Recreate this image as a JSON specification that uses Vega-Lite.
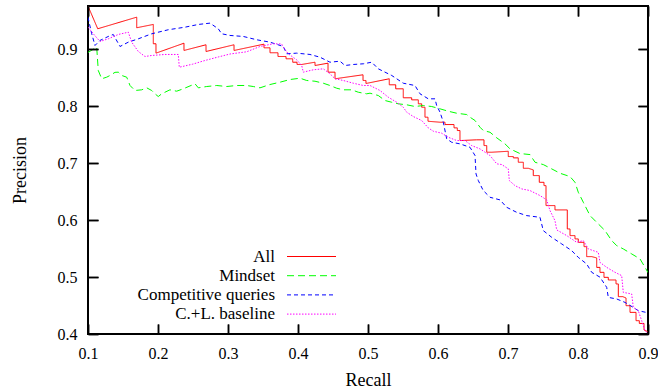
{
"$schema": "https://vega.github.io/schema/vega-lite/v6.json",
"width": 560, "height": 328,
"autosize": {"type": "none"},
"padding": {"left": 88, "top": 6, "right": 10, "bottom": 58},
"background": "white",
"config": {
  "view": {"stroke": "black", "strokeWidth": 2},
  "axis": {"domain": false,
    "labelFont": "Liberation Serif", "labelFontSize": 16, "labelColor": "black", "labelFlush": false, "labelOverlap": false,
    "titleFont": "Liberation Serif", "titleFontSize": 18, "titleFontWeight": "normal", "titleColor": "black"}
},
"data": {"values": [
{"s":"All","r":0.1,"p":0.976},{"s":"All","r":0.1139,"p":0.936},{"s":"All","r":0.1696,"p":0.9564},{"s":"All","r":0.1696,"p":0.9378},{"s":"All","r":0.1933,"p":0.9436},{"s":"All","r":0.1933,"p":0.9097},{"s":"All","r":0.1971,"p":0.9097},{"s":"All","r":0.1971,"p":0.8932},{"s":"All","r":0.2371,"p":0.9107},{"s":"All","r":0.2371,"p":0.8979},{"s":"All","r":0.2686,"p":0.9079},{"s":"All","r":0.2686,"p":0.8961},{"s":"All","r":0.3086,"p":0.9079},{"s":"All","r":0.3086,"p":0.8979},{"s":"All","r":0.3514,"p":0.909},{"s":"All","r":0.3514,"p":0.9026},{"s":"All","r":0.36,"p":0.9026},{"s":"All","r":0.36,"p":0.8939},{"s":"All","r":0.3714,"p":0.8939},{"s":"All","r":0.3714,"p":0.8873},{"s":"All","r":0.3829,"p":0.8873},{"s":"All","r":0.3829,"p":0.8833},{"s":"All","r":0.3924,"p":0.8833},{"s":"All","r":0.3924,"p":0.8773},{"s":"All","r":0.3986,"p":0.8773},{"s":"All","r":0.3986,"p":0.8733},{"s":"All","r":0.4053,"p":0.8733},{"s":"All","r":0.4243,"p":0.8773},{"s":"All","r":0.4243,"p":0.8715},{"s":"All","r":0.4429,"p":0.8756},{"s":"All","r":0.4429,"p":0.8598},{"s":"All","r":0.4529,"p":0.8598},{"s":"All","r":0.4529,"p":0.8482},{"s":"All","r":0.4929,"p":0.8552},{"s":"All","r":0.4929,"p":0.8452},{"s":"All","r":0.4971,"p":0.8452},{"s":"All","r":0.4971,"p":0.8399},{"s":"All","r":0.5304,"p":0.8482},{"s":"All","r":0.5304,"p":0.8376},{"s":"All","r":0.5396,"p":0.8376},{"s":"All","r":0.5396,"p":0.8306},{"s":"All","r":0.5504,"p":0.8306},{"s":"All","r":0.5504,"p":0.8148},{"s":"All","r":0.5624,"p":0.8148},{"s":"All","r":0.5624,"p":0.8112},{"s":"All","r":0.5719,"p":0.8112},{"s":"All","r":0.5719,"p":0.8042},{"s":"All","r":0.5767,"p":0.8042},{"s":"All","r":0.5767,"p":0.7982},{"s":"All","r":0.5814,"p":0.7982},{"s":"All","r":0.5814,"p":0.7807},{"s":"All","r":0.5857,"p":0.7807},{"s":"All","r":0.5857,"p":0.7736},{"s":"All","r":0.6029,"p":0.7719},{"s":"All","r":0.61,"p":0.7719},{"s":"All","r":0.61,"p":0.7678},{"s":"All","r":0.6229,"p":0.7678},{"s":"All","r":0.6229,"p":0.762},{"s":"All","r":0.6276,"p":0.762},{"s":"All","r":0.6276,"p":0.7573},{"s":"All","r":0.6314,"p":0.7573},{"s":"All","r":0.6314,"p":0.7397},{"s":"All","r":0.6553,"p":0.741},{"s":"All","r":0.6657,"p":0.741},{"s":"All","r":0.6657,"p":0.7309},{"s":"All","r":0.6696,"p":0.7309},{"s":"All","r":0.6696,"p":0.7192},{"s":"All","r":0.6767,"p":0.7192},{"s":"All","r":0.7004,"p":0.7209},{"s":"All","r":0.7004,"p":0.7116},{"s":"All","r":0.7076,"p":0.7116},{"s":"All","r":0.7076,"p":0.7093},{"s":"All","r":0.7147,"p":0.7093},{"s":"All","r":0.7147,"p":0.7016},{"s":"All","r":0.7219,"p":0.7016},{"s":"All","r":0.7219,"p":0.691},{"s":"All","r":0.729,"p":0.691},{"s":"All","r":0.7361,"p":0.6882},{"s":"All","r":0.7361,"p":0.6782},{"s":"All","r":0.7447,"p":0.6782},{"s":"All","r":0.7447,"p":0.6664},{"s":"All","r":0.7514,"p":0.6664},{"s":"All","r":0.7514,"p":0.6606},{"s":"All","r":0.7543,"p":0.6606},{"s":"All","r":0.7543,"p":0.6255},{"s":"All","r":0.7671,"p":0.6255},{"s":"All","r":0.7671,"p":0.6179},{"s":"All","r":0.7847,"p":0.6179},{"s":"All","r":0.7847,"p":0.5845},{"s":"All","r":0.7886,"p":0.5845},{"s":"All","r":0.7886,"p":0.5728},{"s":"All","r":0.7957,"p":0.5728},{"s":"All","r":0.7957,"p":0.567},{"s":"All","r":0.8004,"p":0.567},{"s":"All","r":0.8004,"p":0.561},{"s":"All","r":0.8086,"p":0.561},{"s":"All","r":0.8086,"p":0.5534},{"s":"All","r":0.8124,"p":0.5534},{"s":"All","r":0.8124,"p":0.5359},{"s":"All","r":0.8196,"p":0.5359},{"s":"All","r":0.8267,"p":0.5336},{"s":"All","r":0.8267,"p":0.517},{"s":"All","r":0.8314,"p":0.517},{"s":"All","r":0.8314,"p":0.5083},{"s":"All","r":0.8371,"p":0.5083},{"s":"All","r":0.8371,"p":0.4995},{"s":"All","r":0.8433,"p":0.4995},{"s":"All","r":0.8433,"p":0.4949},{"s":"All","r":0.8543,"p":0.4949},{"s":"All","r":0.8543,"p":0.4879},{"s":"All","r":0.8576,"p":0.4879},{"s":"All","r":0.8576,"p":0.4656},{"s":"All","r":0.8639,"p":0.4656},{"s":"All","r":0.8686,"p":0.4633},{"s":"All","r":0.8686,"p":0.4497},{"s":"All","r":0.8743,"p":0.4497},{"s":"All","r":0.8743,"p":0.438},{"s":"All","r":0.8829,"p":0.438},{"s":"All","r":0.8829,"p":0.4234},{"s":"All","r":0.8876,"p":0.4234},{"s":"All","r":0.8876,"p":0.4186},{"s":"All","r":0.8943,"p":0.4186},{"s":"All","r":0.8943,"p":0.407},{"s":"All","r":0.9,"p":0.404},
{"s":"Mindset","r":0.1,"p":0.8944},{"s":"Mindset","r":0.1124,"p":0.9037},{"s":"Mindset","r":0.1147,"p":0.8627},{"s":"Mindset","r":0.1196,"p":0.8482},{"s":"Mindset","r":0.1267,"p":0.851},{"s":"Mindset","r":0.1314,"p":0.854},{"s":"Mindset","r":0.1386,"p":0.8595},{"s":"Mindset","r":0.1433,"p":0.8598},{"s":"Mindset","r":0.1481,"p":0.854},{"s":"Mindset","r":0.1553,"p":0.851},{"s":"Mindset","r":0.16,"p":0.8364},{"s":"Mindset","r":0.1671,"p":0.8276},{"s":"Mindset","r":0.1767,"p":0.8288},{"s":"Mindset","r":0.1839,"p":0.8323},{"s":"Mindset","r":0.191,"p":0.8276},{"s":"Mindset","r":0.1957,"p":0.8218},{"s":"Mindset","r":0.2004,"p":0.817},{"s":"Mindset","r":0.2053,"p":0.8218},{"s":"Mindset","r":0.2171,"p":0.8288},{"s":"Mindset","r":0.2267,"p":0.8264},{"s":"Mindset","r":0.2361,"p":0.8306},{"s":"Mindset","r":0.2529,"p":0.8394},{"s":"Mindset","r":0.2576,"p":0.8323},{"s":"Mindset","r":0.2696,"p":0.8346},{"s":"Mindset","r":0.2839,"p":0.8364},{"s":"Mindset","r":0.2981,"p":0.8346},{"s":"Mindset","r":0.3124,"p":0.8364},{"s":"Mindset","r":0.3267,"p":0.8364},{"s":"Mindset","r":0.3361,"p":0.8346},{"s":"Mindset","r":0.3457,"p":0.8323},{"s":"Mindset","r":0.36,"p":0.8381},{"s":"Mindset","r":0.3743,"p":0.8422},{"s":"Mindset","r":0.3886,"p":0.8469},{"s":"Mindset","r":0.4029,"p":0.8492},{"s":"Mindset","r":0.4124,"p":0.8452},{"s":"Mindset","r":0.4243,"p":0.8439},{"s":"Mindset","r":0.4361,"p":0.8404},{"s":"Mindset","r":0.4457,"p":0.8364},{"s":"Mindset","r":0.4553,"p":0.8316},{"s":"Mindset","r":0.4647,"p":0.8288},{"s":"Mindset","r":0.4767,"p":0.8288},{"s":"Mindset","r":0.4861,"p":0.8246},{"s":"Mindset","r":0.4981,"p":0.8218},{"s":"Mindset","r":0.5029,"p":0.8229},{"s":"Mindset","r":0.5147,"p":0.8188},{"s":"Mindset","r":0.5243,"p":0.81},{"s":"Mindset","r":0.5339,"p":0.807},{"s":"Mindset","r":0.5433,"p":0.8042},{"s":"Mindset","r":0.5553,"p":0.8025},{"s":"Mindset","r":0.5671,"p":0.7995},{"s":"Mindset","r":0.579,"p":0.8012},{"s":"Mindset","r":0.591,"p":0.7995},{"s":"Mindset","r":0.6029,"p":0.7954},{"s":"Mindset","r":0.6147,"p":0.7912},{"s":"Mindset","r":0.6267,"p":0.7877},{"s":"Mindset","r":0.641,"p":0.7854},{"s":"Mindset","r":0.6457,"p":0.7807},{"s":"Mindset","r":0.6529,"p":0.7749},{"s":"Mindset","r":0.66,"p":0.7631},{"s":"Mindset","r":0.6647,"p":0.7573},{"s":"Mindset","r":0.6743,"p":0.7543},{"s":"Mindset","r":0.6839,"p":0.7445},{"s":"Mindset","r":0.6957,"p":0.7339},{"s":"Mindset","r":0.7029,"p":0.7251},{"s":"Mindset","r":0.7171,"p":0.7169},{"s":"Mindset","r":0.7314,"p":0.7151},{"s":"Mindset","r":0.7386,"p":0.7016},{"s":"Mindset","r":0.7504,"p":0.6975},{"s":"Mindset","r":0.7624,"p":0.69},{"s":"Mindset","r":0.7743,"p":0.6823},{"s":"Mindset","r":0.7886,"p":0.6765},{"s":"Mindset","r":0.7957,"p":0.6664},{"s":"Mindset","r":0.8004,"p":0.6489},{"s":"Mindset","r":0.8076,"p":0.6313},{"s":"Mindset","r":0.8171,"p":0.608},{"s":"Mindset","r":0.8267,"p":0.5961},{"s":"Mindset","r":0.8386,"p":0.5816},{"s":"Mindset","r":0.8481,"p":0.564},{"s":"Mindset","r":0.8553,"p":0.5552},{"s":"Mindset","r":0.8647,"p":0.5494},{"s":"Mindset","r":0.8767,"p":0.5406},{"s":"Mindset","r":0.8886,"p":0.5318},{"s":"Mindset","r":0.8971,"p":0.5142},{"s":"Mindset","r":0.9,"p":0.5077},
{"s":"Competitive queries","r":0.1,"p":0.956},{"s":"Competitive queries","r":0.1053,"p":0.9272},{"s":"Competitive queries","r":0.11,"p":0.9067},{"s":"Competitive queries","r":0.1171,"p":0.9155},{"s":"Competitive queries","r":0.129,"p":0.9225},{"s":"Competitive queries","r":0.1361,"p":0.926},{"s":"Competitive queries","r":0.1457,"p":0.9049},{"s":"Competitive queries","r":0.1576,"p":0.9125},{"s":"Competitive queries","r":0.1719,"p":0.9184},{"s":"Competitive queries","r":0.191,"p":0.9272},{"s":"Competitive queries","r":0.2147,"p":0.9343},{"s":"Competitive queries","r":0.2386,"p":0.9388},{"s":"Competitive queries","r":0.2576,"p":0.9436},{"s":"Competitive queries","r":0.2743,"p":0.9459},{"s":"Competitive queries","r":0.2861,"p":0.936},{"s":"Competitive queries","r":0.291,"p":0.9272},{"s":"Competitive queries","r":0.3029,"p":0.9243},{"s":"Competitive queries","r":0.3219,"p":0.9225},{"s":"Competitive queries","r":0.341,"p":0.9167},{"s":"Competitive queries","r":0.36,"p":0.9125},{"s":"Competitive queries","r":0.379,"p":0.9049},{"s":"Competitive queries","r":0.3839,"p":0.8921},{"s":"Competitive queries","r":0.3981,"p":0.8932},{"s":"Competitive queries","r":0.4171,"p":0.8909},{"s":"Competitive queries","r":0.4314,"p":0.8861},{"s":"Competitive queries","r":0.4457,"p":0.8773},{"s":"Competitive queries","r":0.46,"p":0.8791},{"s":"Competitive queries","r":0.4671,"p":0.8715},{"s":"Competitive queries","r":0.479,"p":0.8733},{"s":"Competitive queries","r":0.4933,"p":0.8745},{"s":"Competitive queries","r":0.5053,"p":0.8773},{"s":"Competitive queries","r":0.5147,"p":0.8657},{"s":"Competitive queries","r":0.5243,"p":0.8598},{"s":"Competitive queries","r":0.5339,"p":0.854},{"s":"Competitive queries","r":0.5504,"p":0.8404},{"s":"Competitive queries","r":0.5671,"p":0.8364},{"s":"Competitive queries","r":0.5743,"p":0.8218},{"s":"Competitive queries","r":0.5861,"p":0.813},{"s":"Competitive queries","r":0.5957,"p":0.813},{"s":"Competitive queries","r":0.5981,"p":0.8012},{"s":"Competitive queries","r":0.6029,"p":0.7895},{"s":"Competitive queries","r":0.6076,"p":0.7719},{"s":"Competitive queries","r":0.6124,"p":0.7427},{"s":"Competitive queries","r":0.6196,"p":0.7367},{"s":"Competitive queries","r":0.6314,"p":0.7339},{"s":"Competitive queries","r":0.6457,"p":0.7279},{"s":"Competitive queries","r":0.6529,"p":0.7134},{"s":"Competitive queries","r":0.6543,"p":0.6812},{"s":"Competitive queries","r":0.6576,"p":0.6694},{"s":"Competitive queries","r":0.6647,"p":0.6518},{"s":"Competitive queries","r":0.6743,"p":0.6401},{"s":"Competitive queries","r":0.6886,"p":0.6355},{"s":"Competitive queries","r":0.6981,"p":0.6225},{"s":"Competitive queries","r":0.7124,"p":0.6137},{"s":"Competitive queries","r":0.7267,"p":0.6079},{"s":"Competitive queries","r":0.7457,"p":0.6049},{"s":"Competitive queries","r":0.7504,"p":0.5816},{"s":"Competitive queries","r":0.7624,"p":0.5698},{"s":"Competitive queries","r":0.7767,"p":0.5582},{"s":"Competitive queries","r":0.791,"p":0.5464},{"s":"Competitive queries","r":0.8004,"p":0.5346},{"s":"Competitive queries","r":0.8124,"p":0.523},{"s":"Competitive queries","r":0.8196,"p":0.5083},{"s":"Competitive queries","r":0.8314,"p":0.4998},{"s":"Competitive queries","r":0.841,"p":0.4819},{"s":"Competitive queries","r":0.8433,"p":0.4643},{"s":"Competitive queries","r":0.8553,"p":0.4615},{"s":"Competitive queries","r":0.8671,"p":0.4555},{"s":"Competitive queries","r":0.879,"p":0.4467},{"s":"Competitive queries","r":0.8861,"p":0.4409},{"s":"Competitive queries","r":0.8971,"p":0.438},{"s":"Competitive queries","r":0.9,"p":0.4357},
{"s":"C.+L. baseline","r":0.1,"p":0.9388},{"s":"C.+L. baseline","r":0.1076,"p":0.9272},{"s":"C.+L. baseline","r":0.1171,"p":0.9137},{"s":"C.+L. baseline","r":0.129,"p":0.9184},{"s":"C.+L. baseline","r":0.1433,"p":0.926},{"s":"C.+L. baseline","r":0.1576,"p":0.93},{"s":"C.+L. baseline","r":0.1624,"p":0.9125},{"s":"C.+L. baseline","r":0.1719,"p":0.8961},{"s":"C.+L. baseline","r":0.1814,"p":0.8873},{"s":"C.+L. baseline","r":0.191,"p":0.8891},{"s":"C.+L. baseline","r":0.21,"p":0.8909},{"s":"C.+L. baseline","r":0.229,"p":0.8909},{"s":"C.+L. baseline","r":0.2304,"p":0.8685},{"s":"C.+L. baseline","r":0.2493,"p":0.8738},{"s":"C.+L. baseline","r":0.2671,"p":0.8803},{"s":"C.+L. baseline","r":0.2861,"p":0.8865},{"s":"C.+L. baseline","r":0.3029,"p":0.8917},{"s":"C.+L. baseline","r":0.3267,"p":0.8956},{"s":"C.+L. baseline","r":0.3457,"p":0.9049},{"s":"C.+L. baseline","r":0.3647,"p":0.9097},{"s":"C.+L. baseline","r":0.3767,"p":0.9093},{"s":"C.+L. baseline","r":0.379,"p":0.9037},{"s":"C.+L. baseline","r":0.3861,"p":0.8921},{"s":"C.+L. baseline","r":0.3981,"p":0.8815},{"s":"C.+L. baseline","r":0.4053,"p":0.8715},{"s":"C.+L. baseline","r":0.4076,"p":0.8598},{"s":"C.+L. baseline","r":0.4219,"p":0.864},{"s":"C.+L. baseline","r":0.4361,"p":0.8657},{"s":"C.+L. baseline","r":0.4457,"p":0.857},{"s":"C.+L. baseline","r":0.4529,"p":0.8482},{"s":"C.+L. baseline","r":0.4647,"p":0.8452},{"s":"C.+L. baseline","r":0.479,"p":0.8404},{"s":"C.+L. baseline","r":0.4933,"p":0.8364},{"s":"C.+L. baseline","r":0.5029,"p":0.8364},{"s":"C.+L. baseline","r":0.5171,"p":0.8276},{"s":"C.+L. baseline","r":0.529,"p":0.8158},{"s":"C.+L. baseline","r":0.541,"p":0.807},{"s":"C.+L. baseline","r":0.5504,"p":0.7982},{"s":"C.+L. baseline","r":0.5553,"p":0.7895},{"s":"C.+L. baseline","r":0.5647,"p":0.7819},{"s":"C.+L. baseline","r":0.5767,"p":0.7749},{"s":"C.+L. baseline","r":0.5861,"p":0.762},{"s":"C.+L. baseline","r":0.5933,"p":0.7561},{"s":"C.+L. baseline","r":0.6053,"p":0.7526},{"s":"C.+L. baseline","r":0.6147,"p":0.7455},{"s":"C.+L. baseline","r":0.6267,"p":0.7397},{"s":"C.+L. baseline","r":0.6386,"p":0.7397},{"s":"C.+L. baseline","r":0.6481,"p":0.7309},{"s":"C.+L. baseline","r":0.66,"p":0.7251},{"s":"C.+L. baseline","r":0.6743,"p":0.7134},{"s":"C.+L. baseline","r":0.6839,"p":0.6988},{"s":"C.+L. baseline","r":0.691,"p":0.6976},{"s":"C.+L. baseline","r":0.7004,"p":0.69},{"s":"C.+L. baseline","r":0.7019,"p":0.6694},{"s":"C.+L. baseline","r":0.71,"p":0.6606},{"s":"C.+L. baseline","r":0.7196,"p":0.6548},{"s":"C.+L. baseline","r":0.7314,"p":0.6519},{"s":"C.+L. baseline","r":0.7457,"p":0.6431},{"s":"C.+L. baseline","r":0.7553,"p":0.6355},{"s":"C.+L. baseline","r":0.76,"p":0.6167},{"s":"C.+L. baseline","r":0.7671,"p":0.5991},{"s":"C.+L. baseline","r":0.7696,"p":0.5828},{"s":"C.+L. baseline","r":0.7839,"p":0.5728},{"s":"C.+L. baseline","r":0.7981,"p":0.561},{"s":"C.+L. baseline","r":0.8076,"p":0.564},{"s":"C.+L. baseline","r":0.8147,"p":0.5494},{"s":"C.+L. baseline","r":0.829,"p":0.5434},{"s":"C.+L. baseline","r":0.8314,"p":0.5258},{"s":"C.+L. baseline","r":0.841,"p":0.517},{"s":"C.+L. baseline","r":0.8529,"p":0.5083},{"s":"C.+L. baseline","r":0.8624,"p":0.5025},{"s":"C.+L. baseline","r":0.8647,"p":0.4731},{"s":"C.+L. baseline","r":0.8767,"p":0.4703},{"s":"C.+L. baseline","r":0.879,"p":0.4467},{"s":"C.+L. baseline","r":0.8861,"p":0.4409},{"s":"C.+L. baseline","r":0.891,"p":0.4234},{"s":"C.+L. baseline","r":0.8957,"p":0.4058},{"s":"C.+L. baseline","r":0.9,"p":0.4005}
]},
"layer": [
  {
    "mark": {"type": "line", "strokeWidth": 1, "clip": true},
    "encoding": {
      "x": {"field": "r", "type": "quantitative", "scale": {"domain": [0.1, 0.9], "nice": false, "zero": false},
        "axis": {"orient": "bottom", "title": "Recall", "values": [0.1,0.2,0.3,0.4,0.5,0.6,0.7,0.8,0.9], "format": ".1f", "titlePadding": 10, "ticks": true, "tickSize": -10, "tickColor": "#000000", "tickWidth": 1.5, "labelPadding": 21,
          "grid": true, "gridColor": "#000000", "gridOpacity": 1, "gridWidth": 1.5, "gridDash": [10, 308, 10, 1000], "zindex": 1}},
      "y": {"field": "p", "type": "quantitative", "scale": {"domain": [0.4, 0.976], "nice": false, "zero": false},
        "axis": {"orient": "left", "title": "Precision", "values": [0.4,0.5,0.6,0.7,0.8,0.9], "format": ".1f", "titlePadding": 28, "ticks": true, "tickSize": -10, "tickColor": "#000000", "tickWidth": 1.5, "labelPadding": 21,
          "grid": true, "gridColor": "#000000", "gridOpacity": 1, "gridWidth": 1.5, "gridDash": [10, 540, 10, 1000], "zindex": 1}},
      "color": {"field": "s", "type": "nominal",
        "scale": {"domain": ["All", "Mindset", "Competitive queries", "C.+L. baseline"], "range": ["#ff0000", "#00ff00", "#0000ff", "#ff00ff"]},
        "legend": {"orient": "none", "legendX": 215, "legendY": 242, "title": null, "padding": 0, "symbolType": "M-4.9,0H4.9", "symbolSize": 100, "symbolStrokeWidth": 1,
          "labelFont": "Liberation Serif", "labelFontSize": 17, "labelColor": "black", "labelAlign": "right", "labelOffset": -45, "labelLimit": 300, "rowPadding": 1.2}},
      "strokeDash": {"field": "s", "type": "nominal",
        "scale": {"domain": ["All", "Mindset", "Competitive queries", "C.+L. baseline"], "range": [[1, 0], [7, 4], [4, 3], [1.5, 1.5]]},
        "legend": {"orient": "none", "legendX": 215, "legendY": 242, "title": null, "padding": 0, "symbolType": "M-4.9,0H4.9", "symbolSize": 100, "symbolStrokeWidth": 1,
          "labelFont": "Liberation Serif", "labelFontSize": 17, "labelColor": "black", "labelAlign": "right", "labelOffset": -45, "labelLimit": 300, "rowPadding": 1.2}},
      "order": {"value": null}
    }
  },
  {
    "mark": {"type": "point", "opacity": 0},
    "encoding": {
      "x": {"field": "r", "type": "quantitative", "axis": {"orient": "top", "labels": false, "title": null, "grid": false, "values": [0.1,0.2,0.3,0.4,0.5,0.6,0.7,0.8,0.9], "ticks": true, "tickSize": -10, "tickColor": "#000000", "tickWidth": 1.5, "zindex": 1}},
      "y": {"field": "p", "type": "quantitative", "axis": {"orient": "right", "labels": false, "title": null, "grid": false, "values": [0.4,0.5,0.6,0.7,0.8,0.9], "ticks": true, "tickSize": -10, "tickColor": "#000000", "tickWidth": 1.5, "zindex": 1}}
    }
  }
]
}
